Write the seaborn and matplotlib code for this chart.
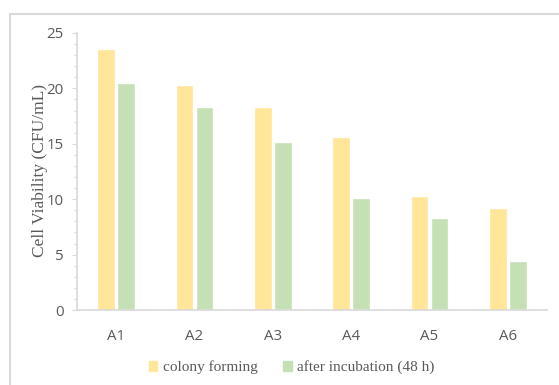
import matplotlib
matplotlib.use("Agg")
import matplotlib.pyplot as plt
from matplotlib.patches import Rectangle
from matplotlib.ticker import MultipleLocator
import seaborn as sns
import pandas as pd

samples = ["A1", "A2", "A3", "A4", "A5", "A6"]
colony_forming = [23.6, 20.3, 18.3, 15.6, 10.3, 9.2]
after_incubation = [20.5, 18.3, 15.2, 10.1, 8.3, 4.4]
series_names = ["colony forming", "after incubation (48 h)"]
palette = ["#FFE699", "#C5E0B4"]

df = pd.DataFrame({
    "sample": samples * 2,
    "value": colony_forming + after_incubation,
    "series": [series_names[0]] * len(samples) + [series_names[1]] * len(samples),
})

sns.set_style("white")
text_gray = "#595959"
axis_gray = "#D9D9D9"

fig = plt.figure(figsize=(5.59, 3.85), dpi=100)
ax = fig.add_axes([77 / 559, 1 - 310 / 385, 470 / 559, 277 / 385])

sns.barplot(data=df, x="sample", y="value", hue="series", palette=palette,
            width=0.51, gap=0.12, ax=ax, legend=False, saturation=1)

ax.set_ylim(0, 25)
ax.yaxis.set_major_locator(MultipleLocator(5))
ax.yaxis.set_minor_locator(MultipleLocator(1))
ax.tick_params(axis="y", which="major", left=True, length=3.5, width=0.8,
               color=axis_gray, labelsize=10.8, labelcolor=text_gray, pad=6)
ax.tick_params(axis="y", which="minor", left=True, length=2.5, width=0.8, color=axis_gray)
ax.tick_params(axis="x", bottom=False, labelsize=10.8, labelcolor=text_gray, pad=10)
for lab in ax.get_xticklabels() + ax.get_yticklabels():
    lab.set_family("Open Sans")

for side in ("top", "right"):
    ax.spines[side].set_visible(False)
for side in ("left", "bottom"):
    ax.spines[side].set_color(axis_gray)
    ax.spines[side].set_linewidth(1.2)

ax.set_xlabel("")
ax.set_ylabel("Cell Viability (CFU/mL)", family="Liberation Serif", fontsize=12.5,
              color=text_gray)
ax.yaxis.set_label_coords(-0.062, 0.505)

handles = [Rectangle((0, 0), 1, 1, color=c) for c in palette]
fig.legend(handles, series_names, loc="center", bbox_to_anchor=(0.522, 0.046),
           ncol=2, frameon=False, handlelength=0.55, handleheight=0.65,
           handletextpad=0.35, columnspacing=1.7,
           prop={"family": "Liberation Serif", "size": 11}, labelcolor=text_gray)

# outer chart frame
fig.patches.append(Rectangle((10 / 559, -0.1), 1.2, 1 - 14 / 385 + 0.1,
                             transform=fig.transFigure, fill=False,
                             edgecolor=axis_gray, linewidth=1.5))

fig.savefig("out.png", dpi=100)
